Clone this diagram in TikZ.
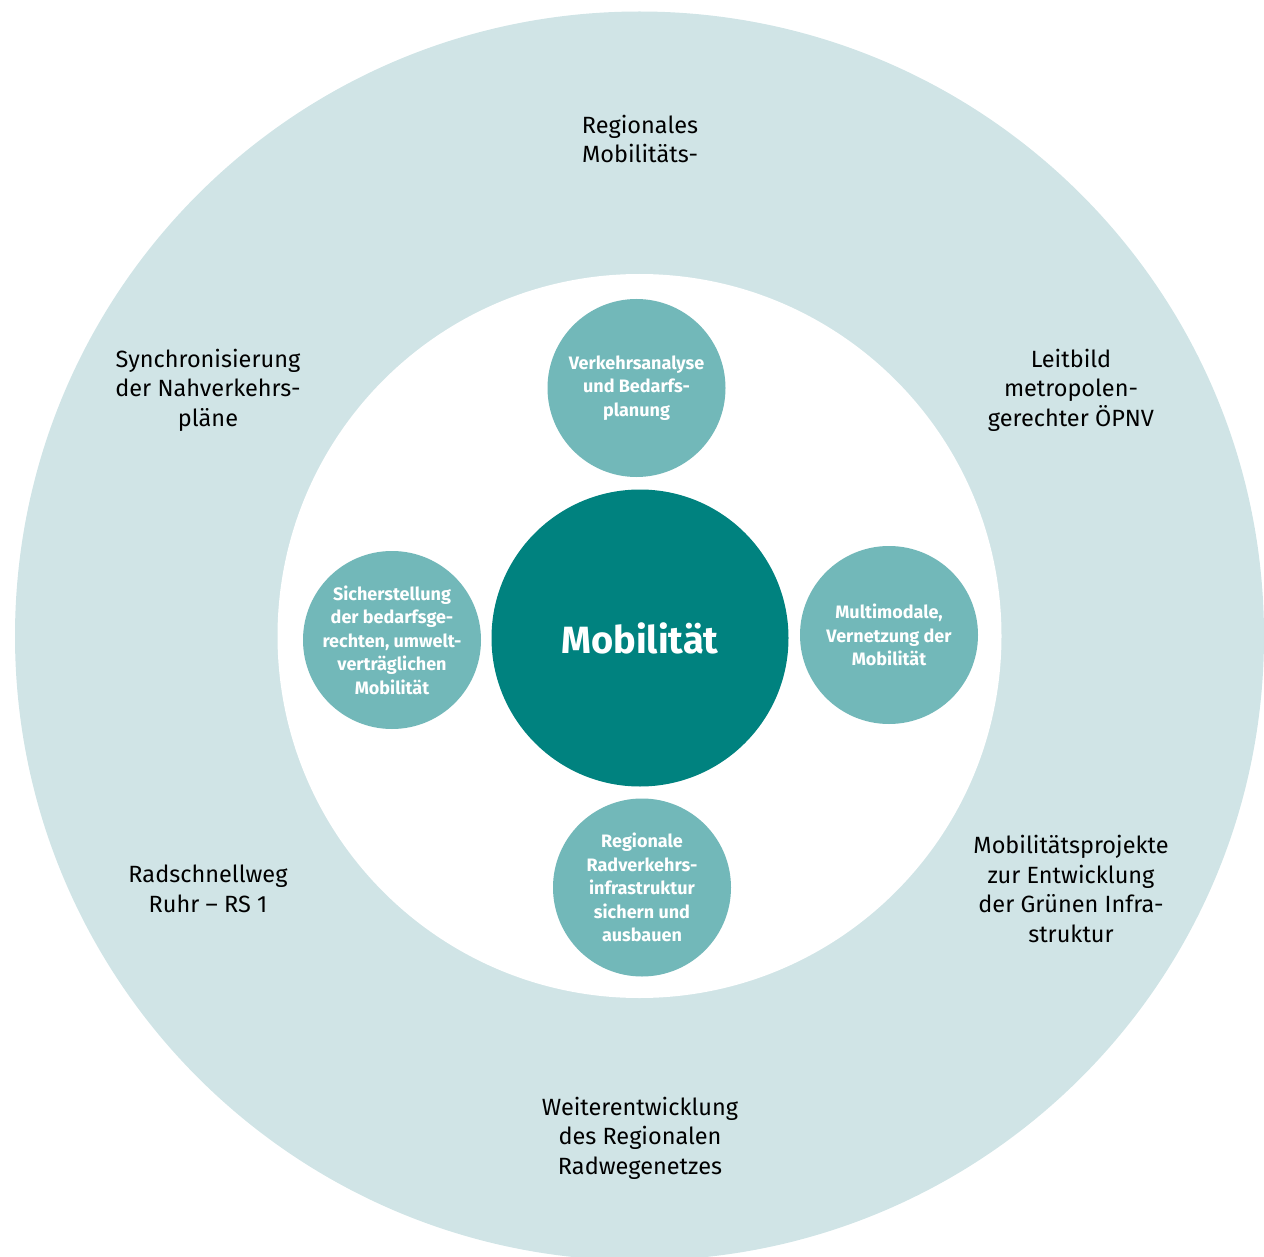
\documentclass[tikz,border=0pt]{standalone}
\usepackage{fontspec}
\setmainfont{Fira Sans}

\definecolor{ringblue}{HTML}{D0E4E6}
\definecolor{petalteal}{HTML}{72B8B9}
\definecolor{coreteal}{HTML}{00827F}

\begin{document}
\begin{tikzpicture}[x=1pt, y=-1pt,
    ringtext/.style={align=center, text=black, font=\fontsize{23.5}{29.5}\selectfont},
    petal/.style={circle, fill=petalteal, text=white, align=center, inner sep=0pt,
        minimum size=178pt, font=\bfseries\fontsize{18}{23.5}\selectfont},
    core/.style={circle, fill=coreteal, text=white, inner sep=0pt,
        minimum size=297pt, font=\bfseries\fontsize{38}{40}\selectfont}]

    % Fix the page to the size of the picture
    \useasboundingbox (0,0) rectangle (1264,1257);

    % Define the center of the rings
    \coordinate (O) at (639.5,636);

    % Draw the outer ring and the white inner disc
    \fill[ringblue] (O) circle (624.5);
    \fill[white] (O) circle (362);

    % Central circle
    \node[core] (mob) at (640,638) {Mobilität};

    % The four small circles round the centre
    \node[petal] (top) at (636.5,388) {Verkehrsanalyse\\und Bedarfs-\\planung};
    \node[petal] (left) at (392,640) {Sicherstellung\\der bedarfsge-\\rechten, umwelt-\\verträglichen\\Mobilität};
    \node[petal] (right) at (889,635) {Multimodale,\\Vernetzung der\\Mobilität};
    \node[petal] (bottom) at (642,887.5) {Regionale\\Radverkehrs-\\infrastruktur\\sichern und\\ausbauen};

    % Labels in the outer ring
    \node[ringtext] (rmk) at (640,139) {Regionales\\Mobilitäts-};
    \node[ringtext] (sync) at (208,390) {Synchronisierung\\der Nahverkehrs-\\pläne};
    \node[ringtext] (leit) at (1071,390) {Leitbild\\metropolen-\\gerechter ÖPNV};
    \node[ringtext] (rs1) at (208,889) {Radschnellweg\\Ruhr – RS 1};
    \node[ringtext] (proj) at (1071,889) {Mobilitätsprojekte\\zur Entwicklung\\der Grünen Infra-\\struktur};
    \node[ringtext] (netz) at (640,1138) {Weiterentwicklung\\des Regionalen\\Radwegenetzes};

\end{tikzpicture}
\end{document}
